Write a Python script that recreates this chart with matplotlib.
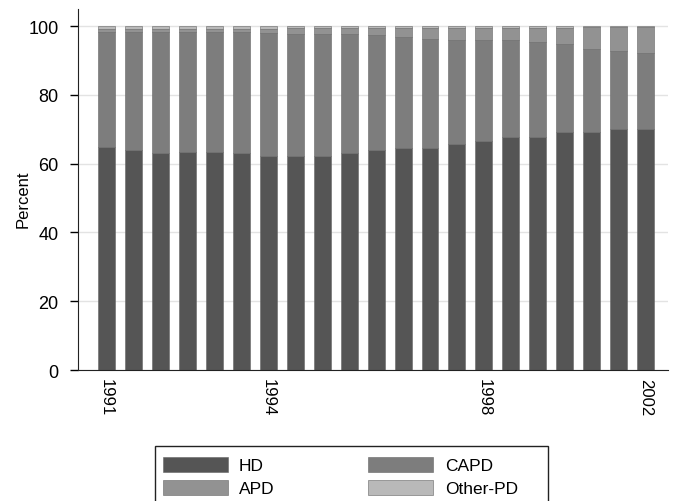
import numpy as np
import matplotlib
matplotlib.use("Agg")
import matplotlib.pyplot as plt
from matplotlib.patches import Rectangle

plt.rcParams['font.family'] = ['Liberation Sans', 'DejaVu Sans']

# one bar per period, labels only at a few of them
n_bars = 21
tick_idx = [0, 6, 14, 20]
tick_labels = ["1991", "1994", "1998", "2002"]

# cumulative levels (percent)
hd = [65.0, 63.9, 63.1, 63.5, 63.5, 63.1, 62.1, 62.1, 62.1, 63.1, 63.9,
      64.7, 64.7, 65.7, 66.6, 67.9, 67.9, 69.3, 69.3, 70.0, 70.0]
capd_top = [98.2, 98.2, 98.2, 98.3, 98.4, 98.3, 98.0, 97.6, 97.8, 97.8, 97.3,
            96.9, 96.3, 96.0, 96.0, 96.0, 95.4, 94.8, 93.3, 92.8, 92.1]
other_pd = [0.8, 0.8, 0.8, 0.8, 0.7, 0.7, 0.7, 0.6, 0.6, 0.6, 0.5,
            0.5, 0.5, 0.5, 0.5, 0.4, 0.4, 0.4, 0.3, 0.3, 0.3]

hd = np.array(hd)
capd = np.array(capd_top) - hd
other = np.array(other_pd)
apd = 100 - np.array(capd_top) - other

colors = {"HD": "#555555", "CAPD": "#7d7d7d", "APD": "#929292", "Other-PD": "#b9b9b9"}

fig = plt.figure(figsize=(6.8, 5.02), dpi=100)
ax = fig.add_axes([78/680, 1-371/502, 590/680, 361/502])

x = np.arange(n_bars)
w = 0.63
bottom = np.zeros(n_bars)
for name, vals in [("HD", hd), ("CAPD", capd), ("APD", apd), ("Other-PD", other)]:
    ax.bar(x, vals, w, bottom=bottom, color=colors[name], label=name,
           edgecolor="#666666", linewidth=0.4, zorder=2)
    bottom = bottom + vals

ax.set_xlim(-1.06, 20.83)
ax.set_ylim(0, 105)
ax.set_yticks([0, 20, 40, 60, 80, 100])
ax.yaxis.grid(True, color="#e3e3e3", linewidth=1, zorder=0)
ax.set_axisbelow(True)
ax.set_xticks(tick_idx)
ax.set_xticklabels(tick_labels, rotation=-90, fontsize=12)
ax.tick_params(axis="x", length=0, pad=6)
ax.tick_params(axis="y", labelsize=13, length=6, width=1, direction="out", pad=8)
ax.set_ylabel("Percent", fontsize=12)
ax.yaxis.set_label_coords(-0.081, 50/105)
for s in ["top", "right"]:
    ax.spines[s].set_visible(False)
ax.spines["left"].set_color("#222222")
ax.spines["bottom"].set_color("#222222")

h, l = ax.get_legend_handles_labels()
order = [0, 2, 1, 3]
leg = fig.legend([h[i] for i in order], [l[i] for i in order], ncol=2,
                 loc="upper left", bbox_to_anchor=(147/680, 1-442/502),
                 fontsize=12.5, frameon=False,
                 handlelength=3.75, handleheight=0.95, columnspacing=5.4,
                 handletextpad=0.65, labelspacing=0.4, borderpad=0.4)
# legend box is wider than its content in the reference
fig.patches.append(Rectangle((155/680, -0.01), (548-155)/680, 1-447/502+0.01,
                             transform=fig.transFigure, fill=False,
                             edgecolor="#222222", linewidth=1.0))

fig.savefig("out.png", dpi=100)
